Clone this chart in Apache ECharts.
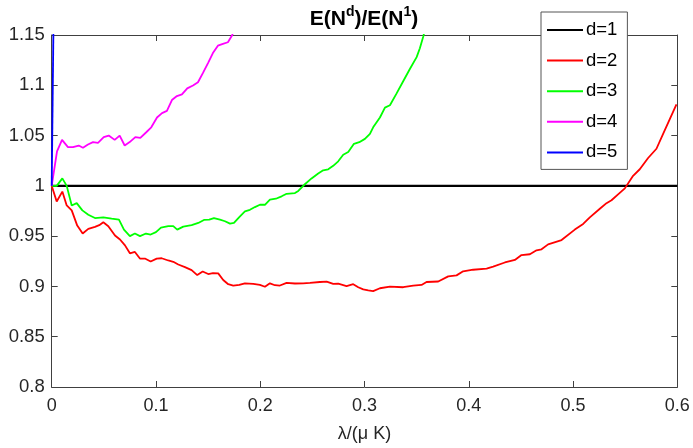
<!DOCTYPE html>
<html>
<head>
<meta charset="utf-8">
<script src="https://cdn.jsdelivr.net/npm/echarts@6/dist/echarts.min.js"></script>
<style>
html,body{margin:0;padding:0;background:#fff;}
#c{width:693px;height:448px;}
</style>
</head>
<body>
<div id="c"></div>
<script>
// ---- data ----
const seriesNames = ['d=1', 'd=2', 'd=3', 'd=4', 'd=5'];
const seriesColors = ['#000000', '#ff0000', '#00ff00', '#ff00ff', '#0000ff'];

const d1 = [[0, 1], [0.6, 1]];

const d2 = [
[0,1.0],[0.0048,0.9845],[0.0102,0.9943],[0.0144,0.9805],[0.0192,0.9756],[0.0245,0.9605],
[0.0297,0.9526],[0.0351,0.9572],[0.0415,0.9592],[0.0456,0.9609],[0.0495,0.9638],[0.0543,0.9599],
[0.0607,0.9506],[0.0655,0.9467],[0.0703,0.9408],[0.075,0.9329],[0.0798,0.9343],[0.0846,0.9277],
[0.0894,0.9277],[0.0949,0.9248],[0.1007,0.9277],[0.1055,0.928],[0.1118,0.9258],[0.1166,0.9245],
[0.1214,0.9218],[0.1278,0.9192],[0.1342,0.9162],[0.1396,0.9113],[0.1448,0.9149],[0.1501,0.9123],
[0.1547,0.9133],[0.1597,0.913],[0.1645,0.9064],[0.1693,0.9022],[0.1741,0.9009],[0.1799,0.9015],
[0.1853,0.9031],[0.1933,0.9025],[0.1997,0.9015],[0.2045,0.8997],[0.2093,0.9031],[0.2141,0.9012],
[0.2189,0.9009],[0.2253,0.9036],[0.2333,0.9029],[0.2412,0.9031],[0.2477,0.9036],[0.2572,0.9044],
[0.2637,0.9048],[0.27,0.9025],[0.2748,0.9027],[0.2828,0.9004],[0.2892,0.9022],[0.294,0.8992],
[0.2988,0.897],[0.3036,0.896],[0.3083,0.8953],[0.3148,0.8982],[0.3244,0.8999],[0.3371,0.8992],
[0.3467,0.9007],[0.3547,0.9015],[0.3595,0.9044],[0.3707,0.9049],[0.3803,0.91],[0.3883,0.911],
[0.3946,0.915],[0.4042,0.9166],[0.4171,0.9177],[0.4234,0.9196],[0.4346,0.9238],[0.4442,0.9263],
[0.4506,0.9312],[0.4586,0.932],[0.465,0.9359],[0.4698,0.9369],[0.4761,0.9418],[0.489,0.9461],
[0.5017,0.9565],[0.5097,0.9621],[0.5161,0.9687],[0.5257,0.9772],[0.5321,0.9828],[0.5369,0.9857],
[0.5432,0.9916],[0.5497,0.9975],[0.5576,1.01],[0.564,1.0165],[0.572,1.0277],[0.58,1.0369],
[0.5864,1.0516],[0.5928,1.0664],[0.5992,1.0811]
];

const d3 = [
[0,1.0],[0.0048,1.0],[0.0102,1.0074],[0.0144,1.0],[0.0192,0.9805],[0.024,0.9828],[0.0294,0.9756],
[0.0351,0.9713],[0.0415,0.968],[0.0495,0.9687],[0.0575,0.9674],[0.0645,0.9664],[0.0693,0.9565],
[0.075,0.95],[0.0798,0.9526],[0.0847,0.95],[0.0904,0.9526],[0.0949,0.9516],[0.1,0.954],
[0.1048,0.9585],[0.1118,0.9599],[0.1166,0.9599],[0.1204,0.9565],[0.1262,0.9595],[0.1342,0.9609],
[0.1406,0.9631],[0.146,0.9661],[0.1511,0.9664],[0.1556,0.968],[0.1614,0.9664],[0.1662,0.9648],
[0.171,0.9624],[0.1748,0.9631],[0.1799,0.969],[0.1853,0.9746],[0.1901,0.9762],[0.1949,0.9789],
[0.1997,0.9812],[0.2045,0.9812],[0.2093,0.9862],[0.215,0.9872],[0.2205,0.9896],[0.2253,0.9921],
[0.2333,0.9928],[0.2365,0.995],[0.2428,1.0016],[0.2492,1.0074],[0.2556,1.0123],[0.2604,1.0155],
[0.2652,1.0165],[0.27,1.0199],[0.2748,1.0244],[0.2796,1.0309],[0.2844,1.0336],[0.2899,1.0418],
[0.295,1.0434],[0.3004,1.0467],[0.3052,1.0516],[0.3083,1.0582],[0.3148,1.068],[0.3196,1.0778],
[0.3244,1.0801],[0.3308,1.0919],[0.3371,1.104],[0.3435,1.1162],[0.35,1.128],[0.3531,1.1368],
[0.3563,1.1482],[0.3585,1.158]
];

const d4 = [
[0,1.0],[0.0051,1.0342],[0.0099,1.0457],[0.0156,1.0385],[0.0204,1.0385],[0.0259,1.0401],
[0.03,1.0379],[0.0348,1.0411],[0.0396,1.0435],[0.0444,1.0428],[0.0499,1.0484],[0.0547,1.05],
[0.0604,1.0457],[0.0652,1.05],[0.07,1.0401],[0.0748,1.0435],[0.0802,1.0484],[0.085,1.0477],
[0.0907,1.0533],[0.0955,1.0582],[0.101,1.068],[0.1058,1.0723],[0.1105,1.0745],[0.1153,1.0853],
[0.1201,1.0893],[0.1249,1.091],[0.13,1.0969],[0.1355,1.0998],[0.1403,1.103],[0.1451,1.1123],
[0.1499,1.1221],[0.1546,1.132],[0.1594,1.1394],[0.1642,1.1411],[0.169,1.1428],[0.1732,1.15],
[0.1755,1.16]
];

const d5 = [[0, 1.0], [0.0018, 1.17]];

const xTicks = [0, 0.1, 0.2, 0.3, 0.4, 0.5, 0.6];
const xTickLabels = ['0', '0.1', '0.2', '0.3', '0.4', '0.5', '0.6'];
const yTicks = [0.8, 0.85, 0.9, 0.95, 1, 1.05, 1.1, 1.15];
const yTickLabels = ['0.8', '0.85', '0.9', '0.95', '1', '1.05', '1.1', '1.15'];

const titleMain1 = 'E(N', titleSup1 = 'd', titleMid = ')/E(N', titleSup2 = '1', titleEnd = ')';
const xAxisTitle = 'λ/(μ K)';

// ---- chart ----
const allData = [d1, d2, d3, d4, d5];
const FONT = '"Liberation Sans", Arial, Helvetica, sans-serif';
const axisColor = '#404040';
const labelColor = '#262626';

const chart = echarts.init(document.getElementById('c'), null, {renderer: 'canvas'});

const baseX = {
  type: 'value', min: xTicks[0], max: xTicks[xTicks.length - 1], interval: 0.1,
  axisLine: {show: true, onZero: false, lineStyle: {color: axisColor, width: 1}},
  axisTick: {show: true, inside: true, length: 6, lineStyle: {color: axisColor}},
  splitLine: {show: false}
};
const baseY = {
  type: 'value', min: yTicks[0], max: yTicks[yTicks.length - 1], interval: 0.05,
  axisLine: {show: true, onZero: false, lineStyle: {color: axisColor, width: 1}},
  axisTick: {show: true, inside: true, length: 6, lineStyle: {color: axisColor}},
  splitLine: {show: false}
};

const option = {
  animation: false,
  backgroundColor: '#ffffff',
  title: {
    text: '{m|' + titleMain1 + '}{s|' + titleSup1 + '}{m|' + titleMid + '}{s|' + titleSup2 + '}{m|' + titleEnd + '}',
    left: 364, top: 5, textAlign: 'center', padding: 0,
    textStyle: {
      rich: {
        m: {fontFamily: FONT, fontSize: 21, fontWeight: 'bold', color: '#000', lineHeight: 28, verticalAlign: 'middle'},
        s: {fontFamily: FONT, fontSize: 14, fontWeight: 'bold', color: '#000', lineHeight: 20, verticalAlign: 'top'}
      }
    }
  },
  legend: {
    data: seriesNames.map((n, i) => ({name: n, icon: 'rect', itemStyle: {color: seriesColors[i]}})),
    orient: 'vertical',
    left: 541, top: 12,
    padding: [8, 10, 7, 6],
    itemGap: 10.6,
    itemWidth: 36, itemHeight: 2,
    backgroundColor: '#ffffff',
    borderColor: '#555555', borderWidth: 1, borderRadius: 0,
    textStyle: {fontFamily: FONT, fontSize: 18.5, color: '#000', lineHeight: 20, padding: [0, 0, 0, -2]},
    selectedMode: false
  },
  grid: {left: 51.7, right: 15.7, top: 35, bottom: 57.3},
  xAxis: [
    Object.assign({}, baseX, {
      position: 'bottom',
      axisLabel: {show: true, margin: 10, color: labelColor, fontFamily: FONT, fontSize: 18,
        formatter: (v) => { const i = xTicks.findIndex(t => Math.abs(t - v) < 1e-9); return i >= 0 ? xTickLabels[i] : ''; }},
      name: xAxisTitle, nameLocation: 'middle', nameGap: 38,
      nameTextStyle: {fontFamily: FONT, fontSize: 18, color: labelColor}
    }),
    Object.assign({}, baseX, {position: 'top', axisLabel: {show: false}})
  ],
  yAxis: [
    Object.assign({}, baseY, {
      position: 'left',
      axisLabel: {show: true, margin: 7, color: labelColor, fontFamily: FONT, fontSize: 18.5,
        formatter: (v) => { const i = yTicks.findIndex(t => Math.abs(t - v) < 1e-9); return i >= 0 ? yTickLabels[i] : ''; }}
    }),
    Object.assign({}, baseY, {position: 'right', axisLabel: {show: false}})
  ],
  series: seriesNames.map((n, i) => ({
    name: n, type: 'line', data: allData[i],
    xAxisIndex: 0, yAxisIndex: 0,
    symbol: 'none', showSymbol: false, clip: true,
    lineStyle: {color: seriesColors[i], width: i === 0 ? 2.2 : 1.8},
    itemStyle: {color: seriesColors[i]},
    z: 2 + i
  }))
};
chart.setOption(option);
</script>
</body>
</html>
